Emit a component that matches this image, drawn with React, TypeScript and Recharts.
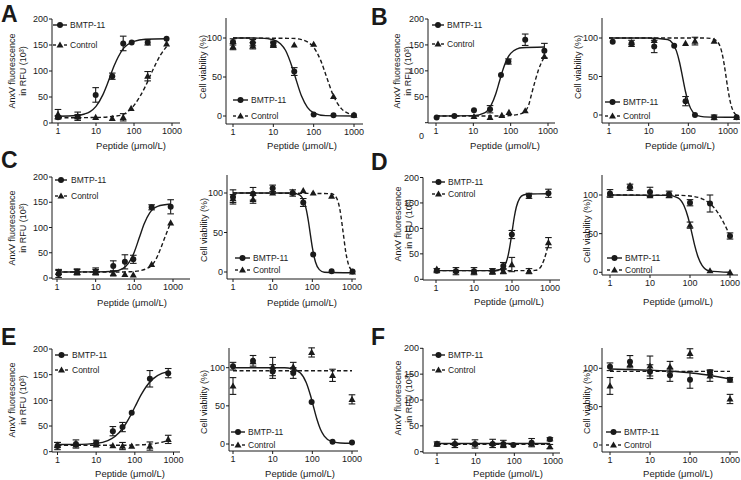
import { ComposedChart, Line, Scatter, ErrorBar, XAxis, YAxis } from 'recharts';

const FONT = '"Liberation Sans", Arial, Helvetica, sans-serif';
const INK = '#1a1a1a';
const W = 741;
const H = 480;
const YW = 30;
const XH = 20;

const xTicks = [1, 10, 100, 1000];
const anxTicks = [0, 50, 100, 150, 200];
const viaTicks = [0, 50, 100];
const seriesNames = ['BMTP-11', 'Control'];
const xTitle = 'Peptide (μmol/L)';
const anxTitle = ['AnxV fluorescence', 'in RFU (10³)'];
const viaTitle = ['Cell viability (%)'];

// [concentration, mean, error]
const aAnxBmtp = [[1, 11, 3], [3.3, 12, 4], [9.8, 54, 14], [26.8, 90, 6], [52, 153, 14], [87, 155, 0], [229, 155, 5], [720, 162, 0]];
const aAnxCtrl = [[1, 17, 9], [3.3, 13, 8], [9.8, 11, 0], [26.8, 9, 0], [52, 11, 7], [84, 28, 0], [229, 90, 9], [720, 152, 0]];
const aAnxBmtpFit = [[1, 13], [3, 14.4], [5, 17.3], [7, 22], [10, 32], [15, 53.6], [20, 75.6], [30, 110], [50, 141], [100, 157], [200, 161], [720, 162]];
const aAnxCtrlFit = [[1, 10], [10, 10.6], [30, 13], [50, 16], [100, 34], [200, 70.7], [300, 99], [500, 131], [720, 147]];

const aViaBmtp = [[1, 95, 4], [3.1, 94, 4], [10, 93, 3], [33, 57, 5], [100, 2, 0], [310, 1, 0], [1000, 1, 0]];
const aViaCtrl = [[1, 89, 4], [3.1, 90, 4], [10, 91, 3], [33, 91, 0], [100, 92, 0], [310, 25, 0], [1000, 1, 0]];
const aViaBmtpFit = [[1, 100], [5, 99.8], [10, 97.7], [15, 92.7], [20, 84.3], [30, 61], [35, 50], [50, 25.5], [70, 11.1], [100, 4.1], [200, 0.5], [1000, 0]];
const aViaCtrlFit = [[1, 100], [30, 99.5], [50, 98], [70, 95], [100, 88], [150, 71], [200, 53], [300, 27.5], [500, 8.8], [700, 3.7], [1000, 1.5]];

const bAnxBmtp = [[1.04, 10, 0], [3.1, 13, 0], [10.4, 24, 0], [28, 26, 7], [55, 92, 0], [87, 118, 5], [245, 160, 11], [800, 139, 14]];
const bAnxCtrl = [[10.4, 12, 0], [28, 10, 0], [58, 14, 0], [90, 20, 0], [245, 23, 0], [800, 128, 0]];
const bAnxBmtpFit = [[1, 13], [10, 13.7], [20, 19], [30, 34], [40, 56], [50, 79.5], [60, 99], [80, 122.7], [100, 133.7], [150, 142.5], [200, 144.6], [800, 146]];
const bAnxCtrlFit = [[1, 13], [50, 13], [100, 14], [150, 15.5], [200, 18], [245, 22], [300, 33], [368, 57], [450, 80], [551, 101], [800, 127]];

const bViaBmtp = [[1.24, 95, 0], [3.7, 93, 4], [13.8, 89, 8], [44, 90, 0], [85, 18, 6], [147, 0, 0], [447, -3, 3], [1650, -3, 0]];
const bViaCtrl = [[3.7, 94, 0], [13.8, 97, 0], [85, 93, 0], [147, 96, 5], [447, 96, 0], [1650, -3, 0]];
const bViaBmtpFit = [[1, 100], [10, 100], [30, 98], [40, 93.2], [50, 83.3], [60, 68.5], [72, 48.5], [85, 30.2], [100, 16.1], [130, 3.7], [170, -0.9], [250, -2.4], [1650, -3]];
const bViaCtrlFit = [[1, 100], [300, 99.9], [500, 97], [600, 91.7], [700, 81.4], [800, 66], [900, 48.5], [1000, 32.8], [1200, 12.6], [1400, 3.8], [1650, -0.4]];

const cAnxBmtp = [[1.1, 8, 7], [3.3, 12, 6], [10, 13, 7], [28.5, 24, 10], [57, 32, 14], [94, 37, 8], [280, 140, 5], [870, 141, 14]];
const cAnxCtrl = [[1.1, 12, 5], [3.3, 12, 5], [10, 12, 5], [28.5, 9, 5], [57, 7, 0], [94, 6, 0], [280, 27, 0], [870, 109, 0]];
const cAnxBmtpFit = [[1, 12], [10, 12.1], [30, 13.5], [50, 18.7], [70, 28.9], [100, 51.7], [134, 79.5], [180, 107.6], [250, 129], [400, 142], [870, 146.4]];
const cAnxCtrlFit = [[1, 12], [50, 12], [100, 13], [150, 15], [200, 18], [280, 25], [350, 35], [460, 55], [600, 78], [870, 110]];

const cViaBmtp = [[1, 95, 9], [3.2, 99, 8], [10, 106, 4], [32, 100, 4], [59, 88, 5], [105, 22, 0], [306, 1, 0], [1035, 0.5, 0]];
const cViaCtrl = [[1, 93, 5], [3.2, 92, 5], [10, 100, 0], [32, 101, 0], [59, 103, 0], [105, 100, 0], [306, 96, 0], [1035, 0, 0]];
const cViaBmtpFit = [[1, 100], [30, 100], [40, 99.1], [50, 96.7], [60, 90.8], [70, 79.6], [80, 63.6], [88, 49.5], [100, 31.1], [120, 12.6], [150, 3], [200, -0.3], [1035, -1]];
const cViaCtrlFit = [[1, 100], [300, 99.2], [400, 94.4], [500, 78], [600, 49.5], [700, 24.6], [800, 10.9], [1000, 1.75], [1035, 1]];

const dAnxBmtp = [[1.05, 17, 4], [3.35, 16, 7], [10, 16, 7], [30.6, 16, 5], [59, 26, 7], [99, 88, 8], [280, 164, 5], [910, 169, 8]];
const dAnxCtrl = [[1.05, 20, 0], [3.35, 17, 0], [10, 15, 0], [30.6, 14, 0], [59, 16, 5], [99, 29, 14], [280, 16, 5], [910, 72, 10]];
const dAnxBmtpFit = [[1, 17], [30, 17], [50, 19.3], [60, 23.7], [70, 32.9], [80, 48.4], [90, 69.4], [100, 92.5], [115, 122.4], [130, 142], [160, 159.5], [200, 165.7], [300, 167.7], [910, 168]];
const dAnxCtrlFit = [[1, 17], [300, 17], [400, 17.5], [500, 20], [600, 27], [700, 39], [800, 53], [910, 72]];

const dViaBmtp = [[1, 102, 5], [3.16, 110, 4], [10, 104, 6], [30, 101, 4], [100, 90, 4], [316, 89, 11], [1000, 47, 4]];
const dViaCtrl = [[1, 101, 0], [3.16, 112, 0], [10, 99, 0], [30, 99, 0], [100, 61, 4], [316, 2, 0], [1000, 0, 0]];
const dViaBmtpFit = [[1, 100], [30, 99.5], [50, 96.2], [70, 86.7], [90, 70.6], [112, 50], [130, 35.5], [160, 19.4], [200, 8.9], [300, 1.9], [1000, 0]];
const dViaCtrlFit = [[1, 100], [50, 99.6], [100, 98.7], [200, 95.1], [300, 89.9], [500, 77], [700, 63.8], [1000, 47]];

const eAnxBmtp = [[1, 11, 7], [3, 15, 8], [10, 17.5, 5], [27, 40, 9], [48, 48, 9], [83, 76, 0], [245, 142, 16], [730, 153, 9]];
const eAnxCtrl = [[1, 13, 5], [3, 13, 0], [10, 13, 0], [27, 12, 0], [48, 11, 7], [83, 11, 0], [245, 11, 8], [730, 24, 8]];
const eAnxBmtpFit = [[1, 14], [3, 14.3], [10, 16.3], [20, 21.6], [30, 29], [50, 46.6], [70, 64.3], [100, 87], [150, 112.5], [200, 127.4], [300, 142.3], [500, 152.4], [730, 155.8]];
const eAnxCtrlFit = [[1, 12.5], [30, 12.5], [100, 13], [200, 14], [300, 15.5], [500, 18.5], [730, 22]];

const eViaBmtp = [[1, 102, 5], [3.2, 109, 7], [10, 95, 9], [33, 93, 7], [96, 55, 0], [323, 3, 0], [1000, 2, 0]];
const eViaCtrl = [[1, 76, 11], [3.2, 108, 0], [10, 101.5, 12], [33, 101, 6], [96, 120, 6], [323, 90, 8], [1000, 58.5, 6]];
const eViaBmtpFit = [[1, 100], [20, 100], [30, 98.8], [50, 93.2], [70, 80.7], [90, 63.5], [105, 50.5], [130, 32.8], [160, 19.4], [200, 10.4], [300, 3.5], [500, 1.4], [1000, 1]];
const eViaCtrlFit = [[1, 96], [1000, 96]];

const fAnxBmtp = [[1, 15, 4], [2.9, 15, 0], [9.6, 15, 8], [27.5, 15, 0], [52, 15, 7], [94, 13, 0], [280, 17.5, 8], [830, 24, 3]];
const fAnxCtrl = [[1, 15, 0], [2.9, 16, 8], [9.6, 15, 0], [27.5, 16, 8], [52, 14, 0], [280, 15, 0], [830, 10, 4]];
const fAnxBmtpFit = [[1, 16], [830, 16]];
const fAnxCtrlFit = [[1, 14.5], [830, 14.5]];

const fViaBmtp = [[1, 102, 5], [3.16, 108.6, 8], [10, 95.6, 9], [31.6, 91, 8], [100, 85, 11], [316, 95, 3], [1000, 85, 3]];
const fViaCtrl = [[1, 77, 11], [3.16, 105, 0], [10, 103, 13], [31.6, 102, 7], [100, 119.5, 6], [316, 90, 7], [1000, 60, 6]];
const fViaBmtpFit = [[1, 99], [10, 97.5], [30, 96.5], [100, 94], [300, 91], [1000, 86]];
const fViaCtrlFit = [[1, 96], [1000, 96]];

const pts = (rows: number[][]) => rows.map(([x, y, e]) => ({ x, y, e: e ? e : null }));
const fit = (rows: number[][]) => rows.map(([x, y]) => ({ x, y }));

type Layout = {
  l: number; r: number; p1: number; p1000: number;
  t: number; b: number; z: number; refV: number; refP: number;
  ticks: number[]; title: string[]; titleX: number[]; titleY: number;
  xtX: number; xtY: number;
  key: { x0: number; x1: number; tx: number; y1: number; y2: number };
  letter?: { ch: string; x: number; y: number };
  lowZero?: boolean;
};

const anx = { ticks: anxTicks, title: anxTitle, refV: 200 };
const via = { ticks: viaTicks, title: viaTitle, refV: 100 };

const layA1: Layout = { ...anx, l: 52, r: 180, p1: 58, p1000: 172, t: 19, b: 123, z: 123, refP: 19, titleX: [12, 23], titleY: 71, xtX: 131, xtY: 146, key: { x0: 53, x1: 67, tx: 70, y1: 25, y2: 45 }, letter: { ch: 'A', x: 1, y: 22 } };
const layA2: Layout = { ...via, l: 226, r: 363, p1: 233, p1000: 354, t: 18, b: 124, z: 116, refP: 38, titleX: [203], titleY: 67, xtX: 302, xtY: 146, key: { x0: 233, x1: 248, tx: 251, y1: 100, y2: 116 } };
const layB1: Layout = { ...anx, l: 428, r: 555, p1: 436, p1000: 548, t: 19, b: 123, z: 122.7, refP: 19, titleX: [397, 408], titleY: 71, xtX: 505, xtY: 146, key: { x0: 432, x1: 444, tx: 447, y1: 25, y2: 44 }, letter: { ch: 'B', x: 371, y: 25 }, lowZero: true };
const layB2: Layout = { ...via, l: 602, r: 740, p1: 609, p1000: 728, t: 18, b: 123, z: 115, refP: 38, titleX: [578], titleY: 67, xtX: 680, xtY: 146, key: { x0: 605, x1: 620, tx: 623, y1: 102, y2: 116 } };
const layC1: Layout = { ...anx, l: 52, r: 190, p1: 57, p1000: 173, t: 177, b: 279, z: 278, refP: 177, titleX: [12, 23], titleY: 228, xtX: 132, xtY: 303, key: { x0: 55, x1: 67, tx: 71, y1: 180, y2: 196 }, letter: { ch: 'C', x: 1, y: 168 } };
const layC2: Layout = { ...via, l: 227, r: 356, p1: 233, p1000: 352, t: 175, b: 279, z: 272, refP: 193, titleX: [204], titleY: 230, xtX: 302, xtY: 303, key: { x0: 235, x1: 250, tx: 253, y1: 258, y2: 270 } };
const layD1: Layout = { ...anx, l: 423, r: 560, p1: 436, p1000: 550, t: 177.5, b: 280, z: 279.3, refP: 177.5, titleX: [398, 409], titleY: 224, xtX: 509, xtY: 302, key: { x0: 432, x1: 445, tx: 448, y1: 182, y2: 194 }, letter: { ch: 'D', x: 371, y: 170 } };
const layD2: Layout = { ...via, l: 602, r: 738, p1: 610, p1000: 730, t: 175, b: 275, z: 272.3, refP: 195, titleX: [587], titleY: 231, xtX: 678, xtY: 302, key: { x0: 607, x1: 622, tx: 625, y1: 258, y2: 270 } };
const layE1: Layout = { ...anx, l: 52, r: 180, p1: 57.5, p1000: 173.5, t: 349, b: 452, z: 451.7, refP: 349, titleX: [12, 23], titleY: 400, xtX: 130, xtY: 474, key: { x0: 55, x1: 68, tx: 72, y1: 355, y2: 370 }, letter: { ch: 'E', x: 1, y: 345 } };
const layE2: Layout = { ...via, l: 229, r: 358, p1: 233, p1000: 352, t: 348, b: 451, z: 444, refP: 367.7, titleX: [204], titleY: 402, xtX: 300, xtY: 474, key: { x0: 231, x1: 245, tx: 248, y1: 432, y2: 445 } };
const layF1: Layout = { ...anx, l: 423, r: 560, p1: 437, p1000: 553, t: 348, b: 453, z: 451.7, refP: 348.3, titleX: [398, 409], titleY: 398, xtX: 508, xtY: 474, key: { x0: 432, x1: 445, tx: 448, y1: 355, y2: 370 }, letter: { ch: 'F', x: 371, y: 345 } };
const layF2: Layout = { ...via, l: 602, r: 738, p1: 610, p1000: 730, t: 348, b: 452, z: 445, refP: 368.3, titleX: [587], titleY: 402, xtX: 678, xtY: 474, key: { x0: 606, x1: 621, tx: 624, y1: 432, y2: 445 } };

const Dot = (p: any) => <circle cx={p.cx} cy={p.cy} r={3} fill={INK} />;
const Tri = (p: any) => (
  <polygon
    points={`${p.cx},${p.cy - 3.6} ${p.cx - 3.5},${p.cy + 2.6} ${p.cx + 3.5},${p.cy + 2.6}`}
    fill={INK}
  />
);

function Key({ k }: { k: Layout['key'] }) {
  const mid = (k.x0 + k.x1) / 2;
  return (
    <g fontSize={8.5} fill={INK}>
      <line x1={k.x0} x2={k.x1} y1={k.y1} y2={k.y1} stroke={INK} strokeWidth={1.4} />
      <Dot cx={mid} cy={k.y1} />
      <text x={k.tx} y={k.y1} dy="0.35em">{seriesNames[0]}</text>
      <line x1={k.x0} x2={k.x0 + 3} y1={k.y2} y2={k.y2} stroke={INK} strokeWidth={1.4} />
      <line x1={k.x1 - 3} x2={k.x1} y1={k.y2} y2={k.y2} stroke={INK} strokeWidth={1.4} />
      <Tri cx={mid} cy={k.y2} />
      <text x={k.tx} y={k.y2} dy="0.35em">{seriesNames[1]}</text>
    </g>
  );
}

function Panel({ lay, bmtp, ctrl, bmtpFit, ctrlFit }: { lay: Layout; bmtp: number[][]; ctrl: number[][]; bmtpFit: number[][]; ctrlFit: number[][] }) {
  const dec = (lay.p1000 - lay.p1) / 3;
  const xDomain = [10 ** ((lay.l - lay.p1) / dec), 10 ** ((lay.r - lay.p1) / dec)];
  const ppu = (lay.z - lay.refP) / lay.refV;
  const yDomain = [-(lay.b - lay.z) / ppu, (lay.z - lay.t) / ppu];
  const yTick = (p: any) => (
    <text
      x={p.x}
      y={p.y + (lay.lowZero && p.payload.value === 0 ? 13 : 0)}
      dy="0.35em"
      textAnchor="end"
      fontSize={9}
      fill={INK}
    >
      {p.payload.value}
    </text>
  );
  return (
    <div style={{ position: 'absolute', left: 0, top: 0 }}>
      <ComposedChart
        width={W}
        height={H}
        margin={{ top: lay.t, right: W - lay.r, bottom: H - lay.b - XH, left: lay.l - YW }}
      >
        <XAxis
          dataKey="x"
          type="number"
          scale="log"
          domain={xDomain}
          allowDataOverflow
          ticks={xTicks}
          interval={0}
          height={XH}
          tickSize={3}
          tickMargin={2}
          stroke={INK}
          tick={{ fontSize: 9, fill: INK }}
        />
        <YAxis
          type="number"
          domain={yDomain}
          allowDataOverflow
          ticks={lay.ticks}
          interval={0}
          width={YW}
          tickSize={3}
          tickMargin={1}
          stroke={INK}
          tick={yTick}
        />
        <Line data={fit(bmtpFit)} dataKey="y" type="monotone" stroke={INK} strokeWidth={1.4} dot={false} isAnimationActive={false} />
        <Line data={fit(ctrlFit)} dataKey="y" type="monotone" stroke={INK} strokeWidth={1.4} strokeDasharray="4 2.5" dot={false} isAnimationActive={false} />
        <Scatter data={pts(ctrl)} dataKey="y" shape={Tri} isAnimationActive={false}>
          <ErrorBar dataKey="e" direction="y" width={3.3} stroke={INK} strokeWidth={1.1} />
        </Scatter>
        <Scatter data={pts(bmtp)} dataKey="y" shape={Dot} isAnimationActive={false}>
          <ErrorBar dataKey="e" direction="y" width={3.3} stroke={INK} strokeWidth={1.1} />
        </Scatter>
        <g fill={INK}>
          {lay.title.map((s, i) => (
            <text
              key={s}
              transform={`translate(${lay.titleX[i]},${lay.titleY}) rotate(-90)`}
              textAnchor="middle"
              dy="0.35em"
              fontSize={9}
            >
              {s}
            </text>
          ))}
          <text x={lay.xtX} y={lay.xtY} textAnchor="middle" dy="0.35em" fontSize={9.5}>
            {xTitle}
          </text>
          {lay.letter && (
            <text x={lay.letter.x} y={lay.letter.y} fontSize={23} fontWeight="bold">
              {lay.letter.ch}
            </text>
          )}
        </g>
        <Key k={lay.key} />
      </ComposedChart>
    </div>
  );
}

export default function App() {
  return (
    <div style={{ position: 'absolute', left: 0, top: 0, width: W, height: H, background: '#fff', fontFamily: FONT, overflow: 'hidden' }}>
      <Panel lay={layA1} bmtp={aAnxBmtp} ctrl={aAnxCtrl} bmtpFit={aAnxBmtpFit} ctrlFit={aAnxCtrlFit} />
      <Panel lay={layA2} bmtp={aViaBmtp} ctrl={aViaCtrl} bmtpFit={aViaBmtpFit} ctrlFit={aViaCtrlFit} />
      <Panel lay={layB1} bmtp={bAnxBmtp} ctrl={bAnxCtrl} bmtpFit={bAnxBmtpFit} ctrlFit={bAnxCtrlFit} />
      <Panel lay={layB2} bmtp={bViaBmtp} ctrl={bViaCtrl} bmtpFit={bViaBmtpFit} ctrlFit={bViaCtrlFit} />
      <Panel lay={layC1} bmtp={cAnxBmtp} ctrl={cAnxCtrl} bmtpFit={cAnxBmtpFit} ctrlFit={cAnxCtrlFit} />
      <Panel lay={layC2} bmtp={cViaBmtp} ctrl={cViaCtrl} bmtpFit={cViaBmtpFit} ctrlFit={cViaCtrlFit} />
      <Panel lay={layD1} bmtp={dAnxBmtp} ctrl={dAnxCtrl} bmtpFit={dAnxBmtpFit} ctrlFit={dAnxCtrlFit} />
      <Panel lay={layD2} bmtp={dViaBmtp} ctrl={dViaCtrl} bmtpFit={dViaBmtpFit} ctrlFit={dViaCtrlFit} />
      <Panel lay={layE1} bmtp={eAnxBmtp} ctrl={eAnxCtrl} bmtpFit={eAnxBmtpFit} ctrlFit={eAnxCtrlFit} />
      <Panel lay={layE2} bmtp={eViaBmtp} ctrl={eViaCtrl} bmtpFit={eViaBmtpFit} ctrlFit={eViaCtrlFit} />
      <Panel lay={layF1} bmtp={fAnxBmtp} ctrl={fAnxCtrl} bmtpFit={fAnxBmtpFit} ctrlFit={fAnxCtrlFit} />
      <Panel lay={layF2} bmtp={fViaBmtp} ctrl={fViaCtrl} bmtpFit={fViaBmtpFit} ctrlFit={fViaCtrlFit} />
    </div>
  );
}
